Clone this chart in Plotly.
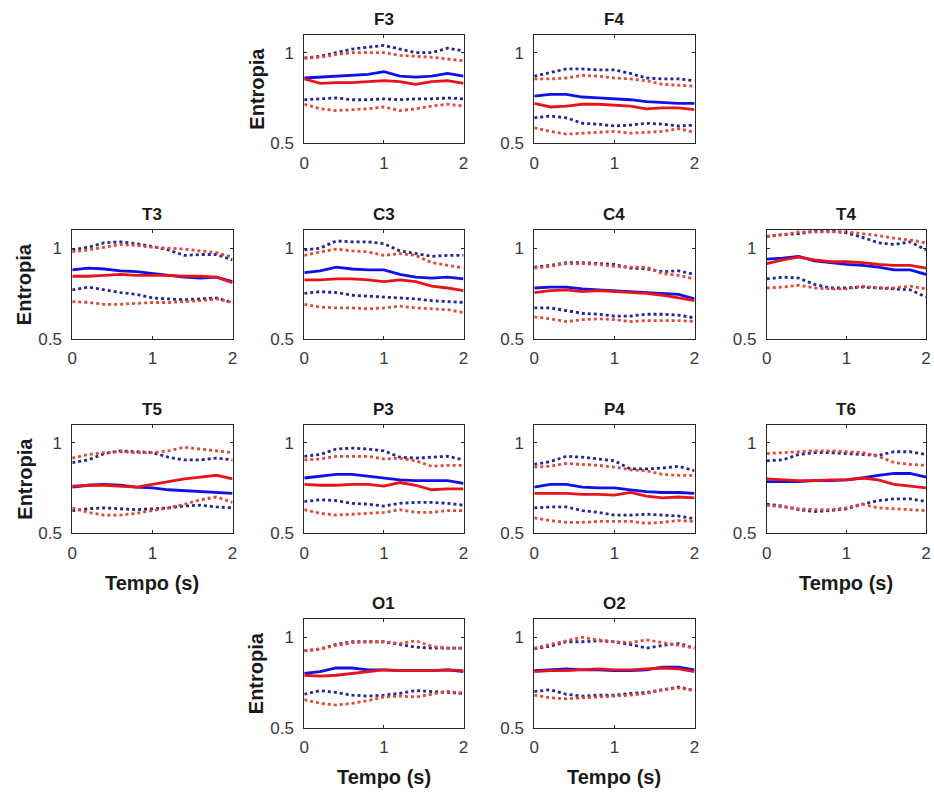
import plotly.graph_objects as go

# ---------------- data ----------------
TIME = [0.0, 0.2, 0.4, 0.6, 0.8, 1.0, 1.2, 1.4, 1.6, 1.8, 2.0]
CHANNELS = ["F3", "F4", "T3", "C3", "C4", "T4", "T5", "P3", "P4", "T6", "O1", "O2"]
X_TICKS = [0, 1, 2]
Y_TICKS = [0.5, 1]
Y_TICK_TEXT = ["0.5", "1"]
Y_LABEL = "Entropia"
X_LABEL = "Tempo (s)"

F3_BLUE    = [0.86, 0.865, 0.87, 0.875, 0.88, 0.895, 0.87, 0.865, 0.87, 0.885, 0.87]
F3_RED     = [0.855, 0.83, 0.835, 0.835, 0.84, 0.845, 0.84, 0.825, 0.84, 0.845, 0.83]
F3_BLUE_HI = [0.97, 0.98, 1.0, 1.02, 1.03, 1.04, 1.02, 1.0, 1.0, 1.025, 1.01]
F3_RED_HI  = [0.97, 0.975, 0.99, 1.0, 1.0, 1.0, 0.985, 0.98, 0.975, 0.965, 0.955]
F3_BLUE_LO = [0.74, 0.745, 0.75, 0.74, 0.74, 0.745, 0.74, 0.745, 0.745, 0.75, 0.745]
F3_RED_LO  = [0.715, 0.69, 0.68, 0.685, 0.69, 0.70, 0.68, 0.69, 0.705, 0.715, 0.705]

F4_BLUE    = [0.76, 0.77, 0.77, 0.755, 0.75, 0.745, 0.74, 0.73, 0.725, 0.72, 0.72]
F4_RED     = [0.72, 0.70, 0.705, 0.715, 0.715, 0.71, 0.705, 0.69, 0.695, 0.695, 0.685]
F4_BLUE_HI = [0.87, 0.89, 0.91, 0.91, 0.905, 0.905, 0.885, 0.86, 0.855, 0.855, 0.845]
F4_RED_HI  = [0.855, 0.855, 0.86, 0.875, 0.87, 0.86, 0.855, 0.845, 0.825, 0.82, 0.815]
F4_BLUE_LO = [0.64, 0.65, 0.64, 0.61, 0.605, 0.595, 0.60, 0.61, 0.605, 0.595, 0.60]
F4_RED_LO  = [0.585, 0.565, 0.55, 0.555, 0.56, 0.565, 0.555, 0.56, 0.565, 0.58, 0.56]

T3_BLUE    = [0.88, 0.89, 0.885, 0.875, 0.87, 0.86, 0.85, 0.84, 0.835, 0.84, 0.815]
T3_RED     = [0.845, 0.845, 0.85, 0.855, 0.85, 0.85, 0.85, 0.845, 0.845, 0.84, 0.81]
T3_BLUE_HI = [0.99, 1.005, 1.03, 1.035, 1.025, 1.01, 0.99, 0.96, 0.965, 0.965, 0.935]
T3_RED_HI  = [0.98, 0.99, 1.005, 1.02, 1.015, 1.005, 1.0, 0.995, 0.985, 0.975, 0.95]
T3_BLUE_LO = [0.77, 0.785, 0.77, 0.755, 0.745, 0.725, 0.72, 0.715, 0.72, 0.725, 0.70]
T3_RED_LO  = [0.705, 0.70, 0.69, 0.69, 0.695, 0.70, 0.70, 0.705, 0.71, 0.72, 0.70]

C3_BLUE    = [0.865, 0.875, 0.895, 0.885, 0.88, 0.88, 0.855, 0.84, 0.835, 0.84, 0.83]
C3_RED     = [0.825, 0.825, 0.83, 0.83, 0.825, 0.815, 0.825, 0.815, 0.79, 0.78, 0.765]
C3_BLUE_HI = [0.99, 1.0, 1.04, 1.035, 1.035, 1.025, 0.985, 0.97, 0.955, 0.96, 0.96]
C3_RED_HI  = [0.96, 0.98, 0.995, 0.985, 0.98, 0.96, 0.97, 0.96, 0.92, 0.905, 0.89]
C3_BLUE_LO = [0.75, 0.76, 0.755, 0.74, 0.735, 0.73, 0.725, 0.72, 0.71, 0.705, 0.70]
C3_RED_LO  = [0.69, 0.675, 0.67, 0.67, 0.665, 0.67, 0.68, 0.67, 0.665, 0.66, 0.645]

C4_BLUE    = [0.78, 0.785, 0.785, 0.775, 0.77, 0.765, 0.76, 0.755, 0.75, 0.745, 0.72]
C4_RED     = [0.755, 0.765, 0.77, 0.76, 0.765, 0.76, 0.755, 0.75, 0.74, 0.725, 0.71]
C4_BLUE_HI = [0.895, 0.905, 0.92, 0.92, 0.915, 0.91, 0.89, 0.885, 0.87, 0.875, 0.855]
C4_RED_HI  = [0.89, 0.90, 0.915, 0.915, 0.91, 0.90, 0.895, 0.895, 0.86, 0.85, 0.83]
C4_BLUE_LO = [0.67, 0.67, 0.655, 0.64, 0.635, 0.625, 0.625, 0.635, 0.635, 0.63, 0.615]
C4_RED_LO  = [0.62, 0.61, 0.595, 0.605, 0.61, 0.605, 0.595, 0.60, 0.60, 0.60, 0.595]

T4_BLUE    = [0.94, 0.945, 0.955, 0.93, 0.92, 0.91, 0.905, 0.895, 0.88, 0.88, 0.855]
T4_RED     = [0.915, 0.935, 0.95, 0.935, 0.925, 0.925, 0.92, 0.91, 0.905, 0.905, 0.89]
T4_BLUE_HI = [1.065, 1.075, 1.08, 1.095, 1.095, 1.085, 1.06, 1.03, 1.02, 1.035, 0.99]
T4_RED_HI  = [1.065, 1.075, 1.09, 1.09, 1.09, 1.09, 1.08, 1.07, 1.055, 1.045, 1.03]
T4_BLUE_LO = [0.83, 0.84, 0.835, 0.80, 0.78, 0.78, 0.785, 0.78, 0.775, 0.77, 0.73]
T4_RED_LO  = [0.78, 0.785, 0.795, 0.78, 0.775, 0.775, 0.79, 0.78, 0.78, 0.79, 0.775]

T5_BLUE    = [0.755, 0.765, 0.77, 0.765, 0.755, 0.75, 0.74, 0.735, 0.73, 0.725, 0.72]
T5_RED     = [0.76, 0.765, 0.765, 0.76, 0.755, 0.77, 0.785, 0.80, 0.81, 0.82, 0.80]
T5_BLUE_HI = [0.89, 0.905, 0.94, 0.955, 0.95, 0.945, 0.92, 0.905, 0.905, 0.915, 0.905]
T5_RED_HI  = [0.915, 0.935, 0.945, 0.95, 0.945, 0.945, 0.955, 0.975, 0.965, 0.955, 0.945]
T5_BLUE_LO = [0.625, 0.635, 0.64, 0.635, 0.63, 0.635, 0.64, 0.65, 0.655, 0.645, 0.64]
T5_RED_LO  = [0.64, 0.615, 0.60, 0.60, 0.61, 0.625, 0.64, 0.66, 0.685, 0.70, 0.67]

P3_BLUE    = [0.805, 0.815, 0.825, 0.825, 0.815, 0.805, 0.795, 0.79, 0.79, 0.79, 0.775]
P3_RED     = [0.77, 0.765, 0.765, 0.77, 0.77, 0.76, 0.78, 0.765, 0.74, 0.745, 0.745]
P3_BLUE_HI = [0.925, 0.935, 0.965, 0.97, 0.965, 0.955, 0.92, 0.915, 0.92, 0.925, 0.905]
P3_RED_HI  = [0.905, 0.91, 0.925, 0.925, 0.925, 0.91, 0.915, 0.90, 0.87, 0.875, 0.875]
P3_BLUE_LO = [0.675, 0.685, 0.68, 0.665, 0.66, 0.65, 0.665, 0.67, 0.67, 0.665, 0.655]
P3_RED_LO  = [0.63, 0.61, 0.60, 0.605, 0.61, 0.615, 0.63, 0.615, 0.615, 0.625, 0.625]

P4_BLUE    = [0.755, 0.77, 0.77, 0.755, 0.75, 0.75, 0.74, 0.73, 0.725, 0.725, 0.72]
P4_RED     = [0.72, 0.72, 0.72, 0.715, 0.715, 0.71, 0.725, 0.705, 0.695, 0.70, 0.695]
P4_BLUE_HI = [0.88, 0.895, 0.925, 0.92, 0.91, 0.90, 0.855, 0.855, 0.86, 0.87, 0.845]
P4_RED_HI  = [0.865, 0.87, 0.885, 0.88, 0.875, 0.865, 0.85, 0.845, 0.825, 0.82, 0.82]
P4_BLUE_LO = [0.64, 0.645, 0.645, 0.625, 0.615, 0.60, 0.60, 0.605, 0.60, 0.595, 0.58]
P4_RED_LO  = [0.585, 0.57, 0.56, 0.56, 0.565, 0.565, 0.565, 0.555, 0.56, 0.57, 0.565]

T6_BLUE    = [0.785, 0.785, 0.785, 0.79, 0.79, 0.795, 0.805, 0.82, 0.83, 0.83, 0.81]
T6_RED     = [0.80, 0.795, 0.79, 0.79, 0.795, 0.795, 0.805, 0.795, 0.77, 0.76, 0.75]
T6_BLUE_HI = [0.90, 0.905, 0.935, 0.945, 0.945, 0.94, 0.935, 0.93, 0.95, 0.95, 0.935]
T6_RED_HI  = [0.94, 0.945, 0.95, 0.955, 0.955, 0.95, 0.945, 0.925, 0.89, 0.88, 0.875]
T6_BLUE_LO = [0.66, 0.65, 0.63, 0.62, 0.625, 0.635, 0.66, 0.68, 0.69, 0.69, 0.675]
T6_RED_LO  = [0.655, 0.645, 0.635, 0.63, 0.63, 0.64, 0.66, 0.64, 0.635, 0.63, 0.625]

O1_BLUE    = [0.80, 0.81, 0.83, 0.83, 0.82, 0.82, 0.815, 0.815, 0.815, 0.82, 0.81]
O1_RED     = [0.79, 0.785, 0.79, 0.80, 0.81, 0.82, 0.815, 0.815, 0.815, 0.82, 0.815]
O1_BLUE_HI = [0.925, 0.935, 0.96, 0.975, 0.975, 0.975, 0.96, 0.945, 0.94, 0.94, 0.94]
O1_RED_HI  = [0.925, 0.935, 0.955, 0.97, 0.975, 0.975, 0.965, 0.98, 0.95, 0.94, 0.94]
O1_BLUE_LO = [0.685, 0.705, 0.695, 0.68, 0.675, 0.68, 0.69, 0.705, 0.70, 0.695, 0.69]
O1_RED_LO  = [0.655, 0.635, 0.625, 0.635, 0.65, 0.67, 0.675, 0.67, 0.685, 0.70, 0.69]

O2_BLUE    = [0.815, 0.82, 0.825, 0.82, 0.82, 0.815, 0.815, 0.82, 0.835, 0.835, 0.82]
O2_RED     = [0.81, 0.815, 0.815, 0.82, 0.825, 0.82, 0.82, 0.825, 0.83, 0.825, 0.81]
O2_BLUE_HI = [0.935, 0.95, 0.975, 0.975, 0.98, 0.975, 0.96, 0.94, 0.955, 0.965, 0.94]
O2_RED_HI  = [0.94, 0.96, 0.98, 1.0, 0.985, 0.975, 0.97, 0.985, 0.97, 0.955, 0.94]
O2_BLUE_LO = [0.70, 0.71, 0.685, 0.675, 0.68, 0.68, 0.69, 0.695, 0.71, 0.725, 0.705]
O2_RED_LO  = [0.68, 0.665, 0.66, 0.665, 0.67, 0.675, 0.68, 0.69, 0.71, 0.72, 0.705]

G = globals()
SERIES = {ch: {k: G[f"{ch}_{k}"] for k in ["BLUE_HI", "BLUE_LO", "BLUE", "RED_HI", "RED_LO", "RED"]}
          for ch in CHANNELS}

# ---------------- layout geometry (pixels) ----------------
W, H = 934, 796
COLS = [(68, 230), (302.5, 463.5), (535, 697), (770, 931)]
ROWS = [(35, 145), (233, 343), (430, 540), (627, 737)]
POS = {"F3": (0, 1), "F4": (0, 2), "T3": (1, 0), "C3": (1, 1), "C4": (1, 2), "T4": (1, 3),
       "T5": (2, 0), "P3": (2, 1), "P4": (2, 2), "T6": (2, 3), "O1": (3, 1), "O2": (3, 2)}
YLABEL_ON = ["F3", "T3", "T5", "O1"]
XLABEL_ON = ["T5", "T6", "O1", "O2"]

BLUE = "#1010e8"
RED = "#e8141a"
BLUE_DOT = "#25259a"
RED_DOT = "#e04a3a"
AXCOL = "#262626"
TICKCOL = "#3a3a3a"
FONT = "Liberation Sans, Arial, sans-serif"

STYLE = {
    "BLUE_HI": dict(color=BLUE_DOT, width=2.8, dash="dot"),
    "BLUE_LO": dict(color=BLUE_DOT, width=2.8, dash="dot"),
    "BLUE": dict(color=BLUE, width=2.8),
    "RED_HI": dict(color=RED_DOT, width=2.8, dash="dot"),
    "RED_LO": dict(color=RED_DOT, width=2.8, dash="dot"),
    "RED": dict(color=RED, width=2.8),
}

fig = go.Figure()
annotations = []
layout = {}
for i, ch in enumerate(CHANNELS, start=1):
    r, c = POS[ch]
    x0, x1 = COLS[c]
    y0, y1 = ROWS[r]
    xa = "xaxis" if i == 1 else f"xaxis{i}"
    ya = "yaxis" if i == 1 else f"yaxis{i}"
    xref = "x" if i == 1 else f"x{i}"
    yref = "y" if i == 1 else f"y{i}"
    for key, vals in SERIES[ch].items():
        fig.add_trace(go.Scatter(x=TIME, y=vals, mode="lines", line=STYLE[key],
                                 xaxis=xref, yaxis=yref, showlegend=False, hoverinfo="skip"))
    common = dict(showline=True, mirror="allticks", linecolor=AXCOL, linewidth=1,
                  ticks="inside", ticklen=3, tickcolor=AXCOL, showgrid=False, zeroline=False,
                  tickfont=dict(family=FONT, size=17, color=TICKCOL), fixedrange=True)
    layout[xa] = dict(domain=[x0 / W, x1 / W], range=[0, 2], tickvals=X_TICKS,
                      anchor=yref, ticklabelstandoff=4, **common)
    layout[ya] = dict(domain=[1 - y1 / H, 1 - y0 / H], range=[0.5, 1.1], tickvals=Y_TICKS,
                      ticktext=Y_TICK_TEXT, anchor=xref, ticklabelstandoff=6, **common)
    # title
    annotations.append(dict(text=f"<b>{ch}</b>", x=(x0 + x1) / 2 / W, y=1 - (y0 - 4) / H,
                            xref="paper", yref="paper", showarrow=False, xanchor="center",
                            yanchor="bottom", font=dict(family=FONT, size=17, color="#1a1a1a")))
    if ch in YLABEL_ON:
        annotations.append(dict(text=f"<b>{Y_LABEL}</b>", x=(x0 - 48) / W, y=1 - (y0 + y1) / 2 / H,
                                xref="paper", yref="paper", showarrow=False, textangle=-90,
                                xanchor="center", yanchor="middle",
                                font=dict(family=FONT, size=20, color="#1a1a1a")))
    if ch in XLABEL_ON:
        annotations.append(dict(text=f"<b>{X_LABEL}</b>", x=(x0 + x1) / 2 / W, y=1 - (y1 + 50) / H,
                                xref="paper", yref="paper", showarrow=False,
                                xanchor="center", yanchor="middle",
                                font=dict(family=FONT, size=20, color="#1a1a1a")))

fig.update_layout(width=W, height=H, margin=dict(l=0, r=0, t=0, b=0),
                  paper_bgcolor="white", plot_bgcolor="white",
                  annotations=annotations, **layout)

fig.write_html("out.html")
